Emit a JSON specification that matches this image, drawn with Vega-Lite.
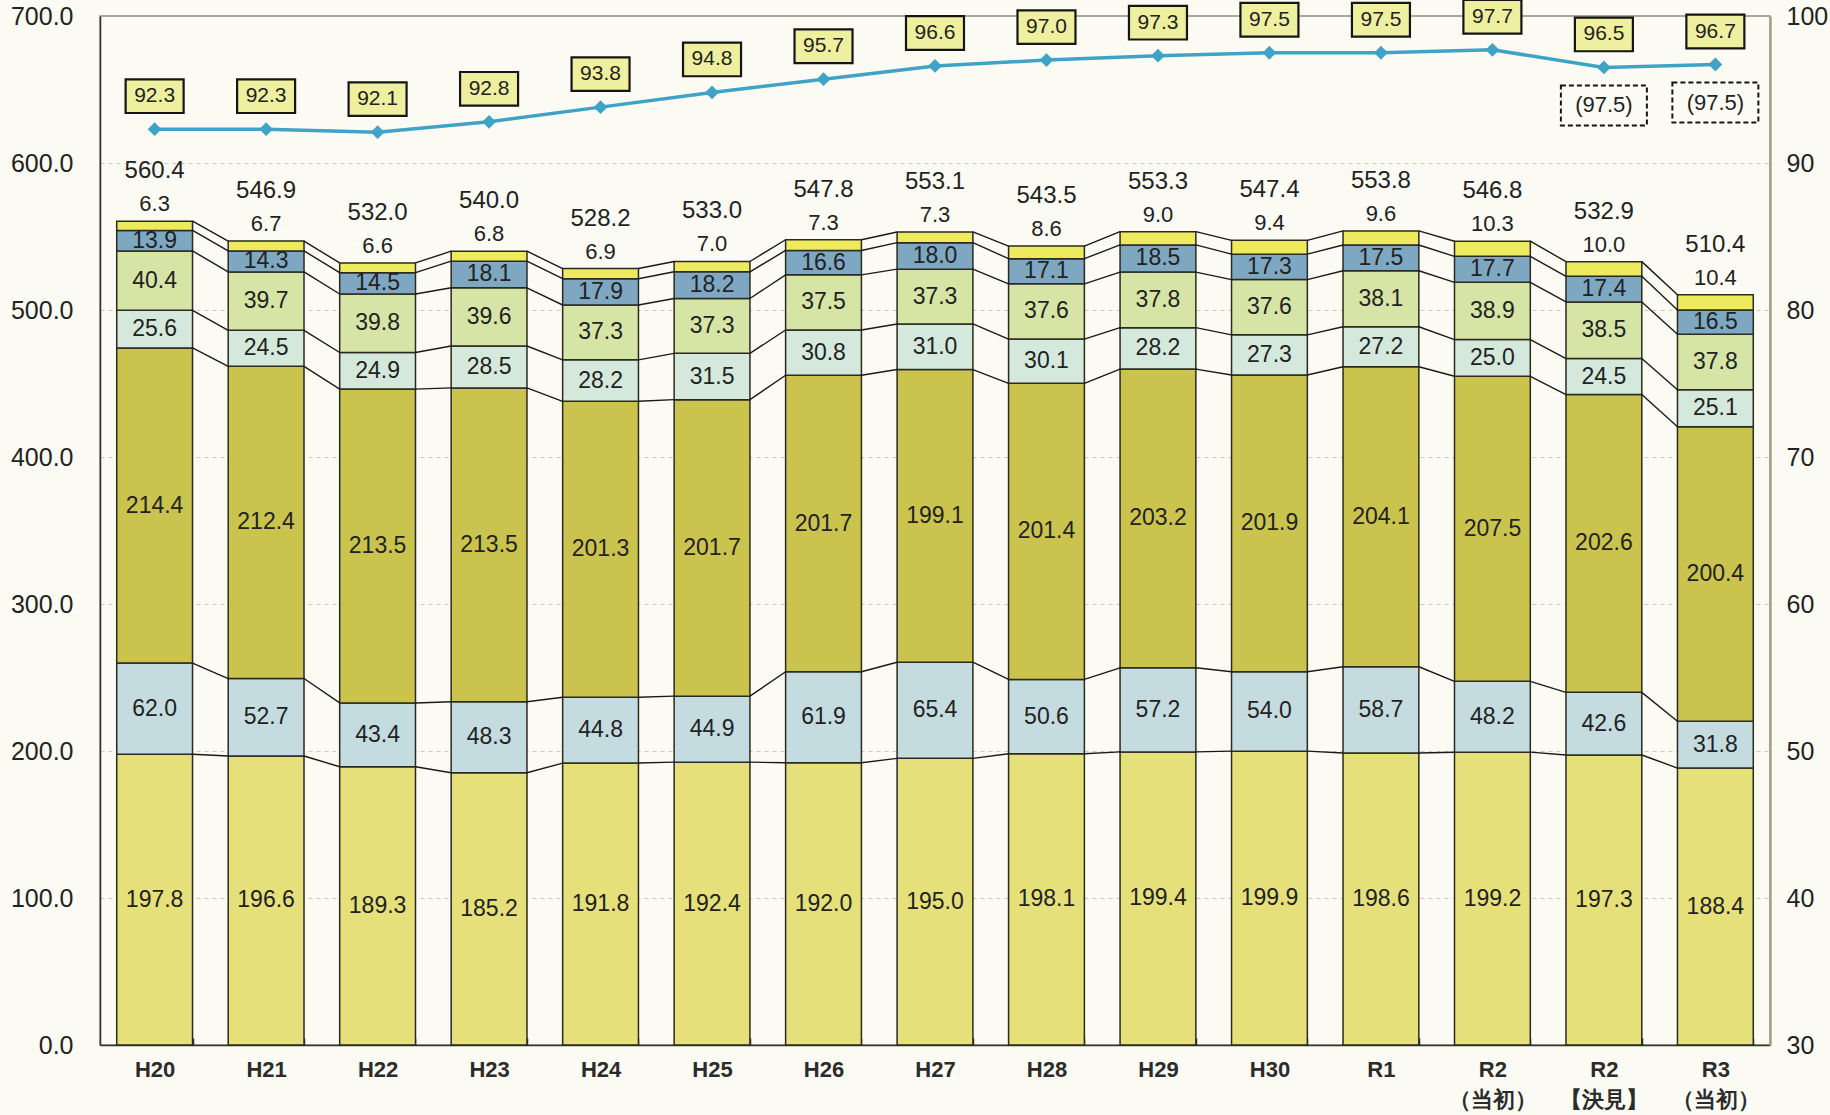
{
  "$schema": "https://vega.github.io/schema/vega-lite/v6.json",
  "width": 1670,
  "height": 1029,
  "autosize": {"type": "none"},
  "padding": {"left": 100, "top": 16, "right": 60, "bottom": 70},
  "background": "#FCFBF3",
  "config": {
    "view": {"stroke": "#8f8f78", "strokeWidth": 1.5},
    "font": "Liberation Sans, Arial, sans-serif",
    "text": {"font": "Liberation Sans, Arial, sans-serif", "fill": "#222222", "fontSize": 23}
  },
  "data": {
    "values": [
      {"i": 0, "year": "H20", "s1": 197.8, "s2": 62.0, "s3": 214.4, "s4": 25.6, "s5": 40.4, "s6": 13.9, "s7": 6.3, "total": 560.4, "rate": 92.3},
      {"i": 1, "year": "H21", "s1": 196.6, "s2": 52.7, "s3": 212.4, "s4": 24.5, "s5": 39.7, "s6": 14.3, "s7": 6.7, "total": 546.9, "rate": 92.3},
      {"i": 2, "year": "H22", "s1": 189.3, "s2": 43.4, "s3": 213.5, "s4": 24.9, "s5": 39.8, "s6": 14.5, "s7": 6.6, "total": 532.0, "rate": 92.1},
      {"i": 3, "year": "H23", "s1": 185.2, "s2": 48.3, "s3": 213.5, "s4": 28.5, "s5": 39.6, "s6": 18.1, "s7": 6.8, "total": 540.0, "rate": 92.8},
      {"i": 4, "year": "H24", "s1": 191.8, "s2": 44.8, "s3": 201.3, "s4": 28.2, "s5": 37.3, "s6": 17.9, "s7": 6.9, "total": 528.2, "rate": 93.8},
      {"i": 5, "year": "H25", "s1": 192.4, "s2": 44.9, "s3": 201.7, "s4": 31.5, "s5": 37.3, "s6": 18.2, "s7": 7.0, "total": 533.0, "rate": 94.8},
      {"i": 6, "year": "H26", "s1": 192.0, "s2": 61.9, "s3": 201.7, "s4": 30.8, "s5": 37.5, "s6": 16.6, "s7": 7.3, "total": 547.8, "rate": 95.7},
      {"i": 7, "year": "H27", "s1": 195.0, "s2": 65.4, "s3": 199.1, "s4": 31.0, "s5": 37.3, "s6": 18.0, "s7": 7.3, "total": 553.1, "rate": 96.6},
      {"i": 8, "year": "H28", "s1": 198.1, "s2": 50.6, "s3": 201.4, "s4": 30.1, "s5": 37.6, "s6": 17.1, "s7": 8.6, "total": 543.5, "rate": 97.0},
      {"i": 9, "year": "H29", "s1": 199.4, "s2": 57.2, "s3": 203.2, "s4": 28.2, "s5": 37.8, "s6": 18.5, "s7": 9.0, "total": 553.3, "rate": 97.3},
      {"i": 10, "year": "H30", "s1": 199.9, "s2": 54.0, "s3": 201.9, "s4": 27.3, "s5": 37.6, "s6": 17.3, "s7": 9.4, "total": 547.4, "rate": 97.5},
      {"i": 11, "year": "R1", "s1": 198.6, "s2": 58.7, "s3": 204.1, "s4": 27.2, "s5": 38.1, "s6": 17.5, "s7": 9.6, "total": 553.8, "rate": 97.5},
      {"i": 12, "year": "R2|（当初）", "s1": 199.2, "s2": 48.2, "s3": 207.5, "s4": 25.0, "s5": 38.9, "s6": 17.7, "s7": 10.3, "total": 546.8, "rate": 97.7},
      {"i": 13, "year": "R2|【決見】", "s1": 197.3, "s2": 42.6, "s3": 202.6, "s4": 24.5, "s5": 38.5, "s6": 17.4, "s7": 10.0, "total": 532.9, "rate": 96.5, "subLabel": "(97.5)"},
      {"i": 14, "year": "R3|（当初）", "s1": 188.4, "s2": 31.8, "s3": 200.4, "s4": 25.1, "s5": 37.8, "s6": 16.5, "s7": 10.4, "total": 510.4, "rate": 96.7, "subLabel": "(97.5)"}
    ]
  },
  "encoding": {
    "x": {
      "field": "year",
      "type": "nominal",
      "title": null,
      "scale": {
        "domain": ["H20", "H21", "H22", "H23", "H24", "H25", "H26", "H27", "H28", "H29", "H30", "R1", "R2|（当初）", "R2|【決見】", "R3|（当初）"],
        "paddingInner": 0.32,
        "paddingOuter": 0.15
      },
      "axis": {
        "title": null,
        "labelAngle": 0,
        "labelExpr": "split(datum.label, '|')",
        "labelFontSize": 22,
        "labelFontWeight": "bold",
        "labelLineHeight": 30,
        "labelColor": "#2b2b2b",
        "labelFont": "Liberation Sans, Arial, sans-serif",
        "labelBaseline": "top",
        "labelPadding": 21,
        "tickBand": "extent",
        "tickSize": -7,
        "tickWidth": 1.5,
        "tickColor": "#333",
        "domainColor": "#333",
        "domainWidth": 1.5
      }
    }
  },
  "layer": [
    {
      "layer": [
        {
          "transform": [{"fold": ["s1", "s2", "s3", "s4", "s5", "s6", "s7"], "as": ["seg", "v"]}],
          "mark": {"type": "bar", "stroke": "#2a2a20", "strokeWidth": 1.5},
          "encoding": {
            "y": {
              "field": "v",
              "type": "quantitative",
              "stack": "zero",
              "scale": {"domain": [0, 700], "nice": false},
              "axis": {
                "title": null,
                "orient": "left",
                "values": [0, 100, 200, 300, 400, 500, 600, 700],
                "format": ".1f",
                "labelFontSize": 25,
                "labelColor": "#222222",
                "labelFont": "Liberation Sans, Arial, sans-serif",
                "labelPadding": 27,
                "ticks": false,
                "tickSize": 0,
                "grid": true,
                "gridColor": "#a8a8a0",
                "gridDash": [4, 4],
                "gridOpacity": 0.6,
                "domainColor": "#333",
                "domainWidth": 1.5
              }
            },
            "color": {
              "field": "seg",
              "type": "nominal",
              "legend": null,
              "scale": {
                "domain": ["s1", "s2", "s3", "s4", "s5", "s6", "s7"],
                "range": ["#E5E07A", "#C4DCE0", "#CAC34E", "#D4E9DC", "#D6E4A6", "#7EA8C2", "#EEEA5E"]
              }
            },
            "order": {"field": "seg"}
          }
        },
        {
          "transform": [
            {"fold": ["s1", "s2", "s3", "s4", "s5", "s6", "s7"], "as": ["seg", "v"]},
            {"window": [{"op": "sum", "field": "v", "as": "cum"}], "groupby": ["year"], "sort": [{"field": "seg"}], "frame": [null, 0]},
            {"window": [{"op": "lead", "field": "cum", "as": "ncum"}, {"op": "lead", "field": "year", "as": "nyear"}], "groupby": ["seg"], "sort": [{"field": "i"}]},
            {"filter": "datum.nyear != null"}
          ],
          "mark": {"type": "rule", "stroke": "#1a1a1a", "strokeWidth": 1.4},
          "encoding": {
            "x": {"field": "year", "type": "nominal", "bandPosition": 1},
            "x2": {"field": "nyear", "bandPosition": 0},
            "y": {"field": "cum", "type": "quantitative"},
            "y2": {"field": "ncum"}
          }
        },
        {
          "transform": [
            {"fold": ["s1", "s2", "s3", "s4", "s5", "s6", "s7"], "as": ["seg", "v"]},
            {"filter": "datum.seg != 's7'"}
          ],
          "mark": {"type": "text", "baseline": "middle", "align": "center", "fontSize": 23},
          "encoding": {
            "y": {"field": "v", "type": "quantitative", "stack": "zero", "bandPosition": 0.5},
            "text": {"field": "v", "type": "quantitative", "format": ".1f"},
            "order": {"field": "seg"}
          }
        },
        {
          "mark": {"type": "text", "baseline": "middle", "align": "center", "dy": -17, "fontSize": 22},
          "encoding": {
            "y": {"field": "total", "type": "quantitative"},
            "text": {"field": "s7", "type": "quantitative", "format": ".1f"}
          }
        },
        {
          "mark": {"type": "text", "baseline": "middle", "align": "center", "dy": -50, "fontSize": 24},
          "encoding": {
            "y": {"field": "total", "type": "quantitative"},
            "text": {"field": "total", "type": "quantitative", "format": ".1f"}
          }
        }
      ]
    },
    {
      "layer": [
        {
          "mark": {"type": "line", "color": "#3EA3C6", "strokeWidth": 3.5},
          "encoding": {
            "y": {
              "field": "rate",
              "type": "quantitative",
              "scale": {"domain": [30, 100], "nice": false},
              "axis": {
                "title": null,
                "orient": "right",
                "values": [30, 40, 50, 60, 70, 80, 90, 100],
                "format": "d",
                "labelFontSize": 25,
                "labelColor": "#222222",
                "labelFont": "Liberation Sans, Arial, sans-serif",
                "labelPadding": 16,
                "ticks": false,
                "tickSize": 0,
                "grid": false,
                "domainColor": "#a3a38a",
                "domainWidth": 2.5
              }
            }
          }
        },
        {
          "mark": {"type": "point", "shape": "diamond", "filled": true, "color": "#3EA3C6", "size": 190, "opacity": 1},
          "encoding": {"y": {"field": "rate", "type": "quantitative"}}
        },
        {
          "mark": {"type": "point", "shape": "M-1,-0.58L1,-0.58L1,0.58L-1,0.58Z", "size": 3364, "filled": true, "fill": "#EEF0A0", "stroke": "#151515", "strokeWidth": 2.2, "opacity": 1, "yOffset": -33},
          "encoding": {"y": {"field": "rate", "type": "quantitative"}}
        },
        {
          "mark": {"type": "text", "baseline": "middle", "align": "center", "dy": -33, "fontSize": 21},
          "encoding": {
            "y": {"field": "rate", "type": "quantitative"},
            "text": {"field": "rate", "type": "quantitative", "format": ".1f"}
          }
        },
        {
          "transform": [{"filter": "isValid(datum.subLabel)"}],
          "mark": {"type": "point", "shape": "M-1,-0.465L1,-0.465L1,0.465L-1,0.465Z", "size": 7396, "filled": false, "stroke": "#151515", "strokeWidth": 2, "strokeDash": [5, 3], "opacity": 1, "yOffset": 38},
          "encoding": {"y": {"field": "rate", "type": "quantitative"}}
        },
        {
          "transform": [{"filter": "isValid(datum.subLabel)"}],
          "mark": {"type": "text", "baseline": "middle", "align": "center", "dy": 38, "fontSize": 22},
          "encoding": {
            "y": {"field": "rate", "type": "quantitative"},
            "text": {"field": "subLabel", "type": "nominal"}
          }
        }
      ]
    }
  ],
  "resolve": {"scale": {"y": "independent"}, "axis": {"y": "independent"}}
}
